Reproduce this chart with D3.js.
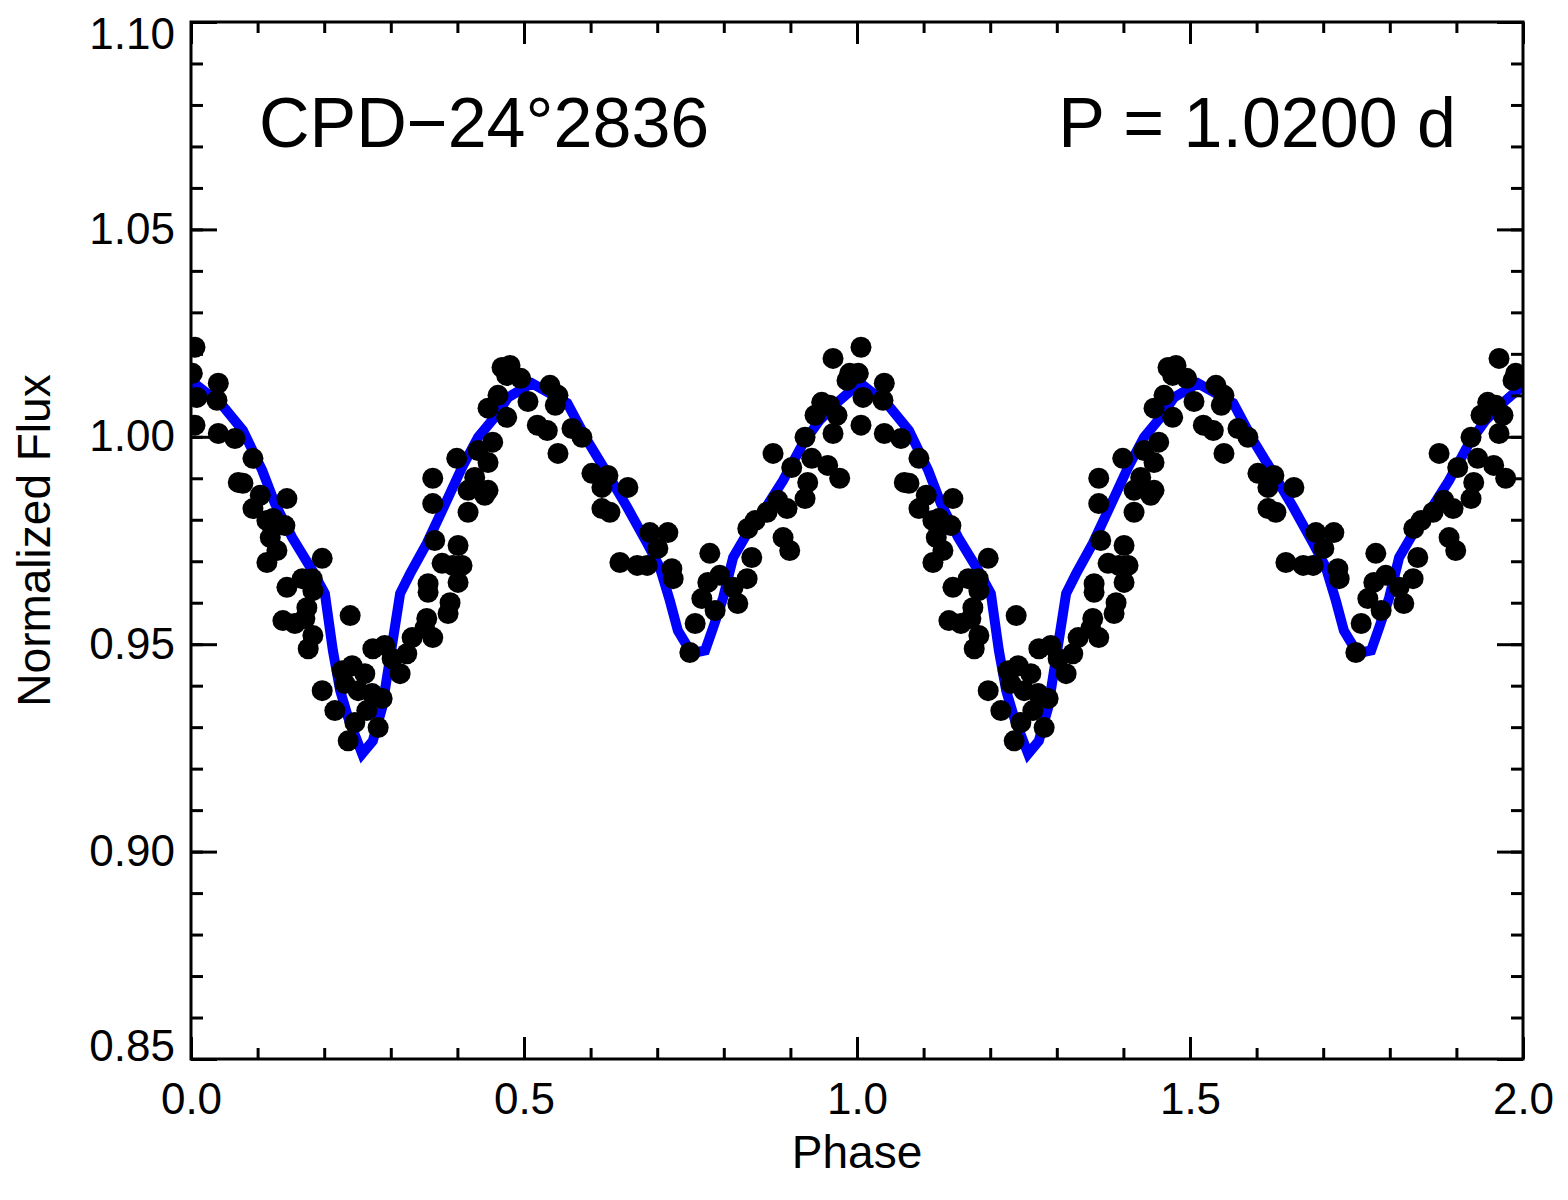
<!DOCTYPE html>
<html>
<head>
<meta charset="utf-8">
<script src="https://cdn.jsdelivr.net/npm/d3@7"></script>
<style>
  body { margin: 0; background: #fff; }
  svg text { font-family: "Liberation Sans", Arial, Helvetica, sans-serif; fill: #000; }
</style>
</head>
<body>
<div id="chart"></div>
<script>
// phase-folded photometry (one cycle, shown twice)
const obsPhase = [
  0.006, 0.002, 0.009, 0.041, 0.039, 0.006, 0.041, 0.066, 0.093, 0.071,
  0.078, 0.104, 0.144, 0.093, 0.114, 0.123, 0.141, 0.119, 0.129, 0.114,
  0.197, 0.144, 0.167, 0.182, 0.183, 0.174, 0.138, 0.156, 0.171, 0.183,
  0.176, 0.239, 0.227, 0.242, 0.261, 0.197, 0.231, 0.251, 0.272, 0.287,
  0.216, 0.246, 0.264, 0.281, 0.236, 0.273, 0.291, 0.302, 0.324, 0.314,
  0.332, 0.351, 0.363, 0.354, 0.386, 0.389, 0.356, 0.356, 0.377, 0.393,
  0.407, 0.401, 0.401, 0.366, 0.363, 0.363, 0.416, 0.416, 0.426, 0.446,
  0.441, 0.446, 0.431, 0.453, 0.399, 0.446, 0.461, 0.474, 0.467, 0.479,
  0.474, 0.495, 0.506, 0.520, 0.539, 0.551, 0.547, 0.535, 0.572, 0.587,
  0.551, 0.602, 0.626, 0.617, 0.656, 0.617, 0.629, 0.689, 0.716, 0.701,
  0.644, 0.670, 0.685, 0.722, 0.724, 0.779, 0.767, 0.757, 0.749, 0.787,
  0.776, 0.794, 0.814, 0.821, 0.964, 0.989, 0.985, 0.947, 0.959, 0.937,
  0.970, 0.964, 0.922, 0.874, 0.902, 0.932, 0.956, 0.974, 0.926, 0.922,
  0.881, 0.895, 0.865, 0.847, 0.836, 0.889, 0.899, 0.842, 0.835
];
const obsFlux = [
  1.0216, 1.0153, 1.0095, 1.0129, 1.0088, 1.0028, 1.0008, 0.9996, 0.9948, 0.9890,
  0.9888, 0.9859, 0.9851, 0.9827, 0.9798, 0.9803, 0.9786, 0.9757, 0.9726, 0.9697,
  0.9707, 0.9637, 0.9658, 0.9658, 0.9629, 0.9588, 0.9557, 0.9550, 0.9562, 0.9521,
  0.9489, 0.9569, 0.9436, 0.9448, 0.9429, 0.9388, 0.9405, 0.9388, 0.9381, 0.9369,
  0.9340, 0.9311, 0.9340, 0.9299, 0.9267, 0.9489, 0.9497, 0.9465, 0.9477, 0.9429,
  0.9516, 0.9538, 0.9516, 0.9562, 0.9574, 0.9600, 0.9625, 0.9646, 0.9695, 0.9690,
  0.9690, 0.9649, 0.9738, 0.9750, 0.9839, 0.9900, 0.9818, 0.9871, 0.9902, 0.9871,
  0.9859, 0.9938, 0.9967, 0.9987, 0.9948, 1.0069, 1.0100, 1.0047, 1.0167, 1.0172,
  1.0148, 1.0141, 1.0085, 1.0028, 1.0124, 1.0100, 1.0076, 1.0015, 1.0020, 0.9999,
  0.9960, 0.9912, 0.9907, 0.9878, 0.9878, 0.9827, 0.9818, 0.9769, 0.9769, 0.9731,
  0.9697, 0.9690, 0.9690, 0.9682, 0.9658, 0.9719, 0.9610, 0.9550, 0.9480, 0.9581,
  0.9649, 0.9666, 0.9637, 0.9598, 1.0189, 1.0153, 1.0136, 1.0083, 1.0076, 1.0052,
  1.0052, 1.0008, 0.9999, 0.9960, 0.9926, 0.9948, 0.9931, 0.9900, 0.9890, 0.9851,
  0.9847, 0.9827, 0.9818, 0.9798, 0.9779, 0.9757, 0.9726, 0.9709, 0.9658
];

// model light curve (one cycle)
const modelPhase = [
  0.000, 0.009, 0.047, 0.078, 0.107, 0.126, 0.152, 0.182, 0.201, 0.213,
  0.224, 0.236, 0.257, 0.273, 0.287, 0.299, 0.314, 0.329, 0.354, 0.377,
  0.407, 0.431, 0.456, 0.476, 0.512, 0.565, 0.595, 0.625, 0.655, 0.685,
  0.704, 0.719, 0.731, 0.749, 0.757, 0.772, 0.784, 0.799, 0.814, 0.835,
  0.854, 0.889, 0.919, 0.944, 0.974, 1.000
];
const modelFlux = [
  1.0129, 1.0124, 1.0076, 1.0015, 0.9919, 0.9839, 0.9757, 0.9678, 0.9622, 0.9485,
  0.9388, 0.9323, 0.9236, 0.9267, 0.9347, 0.9468, 0.9622, 0.9670, 0.9743, 0.9822,
  0.9926, 0.9999, 1.0047, 1.0095, 1.0129, 1.0081, 0.9991, 0.9912, 0.9830, 0.9743,
  0.9685, 0.9605, 0.9533, 0.9485, 0.9480, 0.9485, 0.9540, 0.9612, 0.9709, 0.9767,
  0.9806, 0.9895, 0.9984, 1.0040, 1.0088, 1.0124
];

const xMajor = [0.0, 0.5, 1.0, 1.5, 2.0];
const yMajor = [0.85, 0.90, 0.95, 1.00, 1.05, 1.10];
const starName = "CPD\u221224\u00b02836";
const periodLabel = "P = 1.0200 d";

const W = 1568, H = 1200;
const margin = { left: 191, top: 22, right: 45, bottom: 141 };
const pw = W - margin.left - margin.right;
const ph = H - margin.top - margin.bottom;

const x = d3.scaleLinear().domain([0, 2]).range([0, pw]);
const y = d3.scaleLinear().domain([0.85, 1.10]).range([ph, 0]);

const svg = d3.select('#chart').append('svg')
  .attr('width', W).attr('height', H);

svg.append('defs').append('clipPath').attr('id', 'plotclip')
  .append('rect').attr('width', pw).attr('height', ph);

const g = svg.append('g').attr('transform', `translate(${margin.left},${margin.top})`);

// two cycles
let points = [];
let model = [];
[0, 1].forEach(function (k) {
  obsPhase.forEach(function (p, i) { points.push({ p: p + k, f: obsFlux[i] }); });
  modelPhase.forEach(function (p, i) {
    if (k === 1 && i === 0) return;
    model.push({ p: p + k, f: modelFlux[i] });
  });
});

const plot = g.append('g').attr('clip-path', 'url(#plotclip)');

plot.append('path')
  .datum(model)
  .attr('fill', 'none')
  .attr('stroke', '#0000ff')
  .attr('stroke-width', 10)
  .attr('d', d3.line().x(d => x(d.p)).y(d => y(d.f)));

plot.selectAll('circle')
  .data(points)
  .enter().append('circle')
  .attr('cx', d => x(d.p))
  .attr('cy', d => y(d.f))
  .attr('r', 10.5)
  .attr('fill', '#000');

// axes: major + minor ticks on all four sides, pointing inward
const xMinor = d3.range(0, 2.0001, 0.1);
const yMinor = d3.range(0.85, 1.1001, 0.01);

function styleAxis(sel) {
  sel.select('.domain').remove();
  sel.selectAll('.tick line').attr('stroke', '#000').attr('stroke-width', 3);
}

g.append('g').attr('transform', `translate(0,${ph})`)
  .call(d3.axisBottom(x).tickValues(xMajor).tickSize(-22).tickSizeOuter(0)
    .tickPadding(24).tickFormat(d3.format('.1f')))
  .call(styleAxis)
  .selectAll('text').attr('font-size', 44).attr('dy', '0.71em')
  .style('font-family', '"Liberation Sans", Arial, Helvetica, sans-serif');

g.append('g').attr('transform', `translate(0,${ph})`)
  .call(d3.axisBottom(x).tickValues(xMinor).tickSize(-11).tickFormat(''))
  .call(styleAxis);

g.append('g')
  .call(d3.axisTop(x).tickValues(xMajor).tickSize(-22).tickFormat(''))
  .call(styleAxis);
g.append('g')
  .call(d3.axisTop(x).tickValues(xMinor).tickSize(-11).tickFormat(''))
  .call(styleAxis);

let yLabels = g.append('g')
  .call(d3.axisLeft(y).tickValues(yMajor).tickSize(-26).tickPadding(16)
    .tickFormat(d3.format('.2f')))
  .call(styleAxis)
  .selectAll('text').attr('font-size', 44)
  .style('font-family', '"Liberation Sans", Arial, Helvetica, sans-serif');

// end labels are pushed inside the axis range, like the original
yLabels.attr('y', function (d, i) {
  if (i === 0) return -13;
  if (i === yMajor.length - 1) return 12;
  return 0;
});

g.append('g')
  .call(d3.axisLeft(y).tickValues(yMinor).tickSize(-12).tickFormat(''))
  .call(styleAxis);

g.append('g').attr('transform', `translate(${pw},0)`)
  .call(d3.axisRight(y).tickValues(yMajor).tickSize(-26).tickFormat(''))
  .call(styleAxis);
g.append('g').attr('transform', `translate(${pw},0)`)
  .call(d3.axisRight(y).tickValues(yMinor).tickSize(-12).tickFormat(''))
  .call(styleAxis);

// frame
g.append('rect')
  .attr('width', pw).attr('height', ph)
  .attr('fill', 'none').attr('stroke', '#000').attr('stroke-width', 3);

// axis titles
svg.append('text')
  .attr('x', margin.left + pw / 2).attr('y', 1168)
  .attr('text-anchor', 'middle').attr('font-size', 46)
  .text('Phase');

svg.append('text')
  .attr('transform', `translate(50,${margin.top + ph / 2}) rotate(-90)`)
  .attr('text-anchor', 'middle').attr('font-size', 46)
  .text('Normalized Flux');

// annotations
svg.append('text')
  .attr('x', 259).attr('y', 147)
  .attr('font-size', 70)
  .text(starName);

svg.append('text')
  .attr('x', 1456).attr('y', 147)
  .attr('text-anchor', 'end').attr('font-size', 70)
  .text(periodLabel);
</script>
</body>
</html>
